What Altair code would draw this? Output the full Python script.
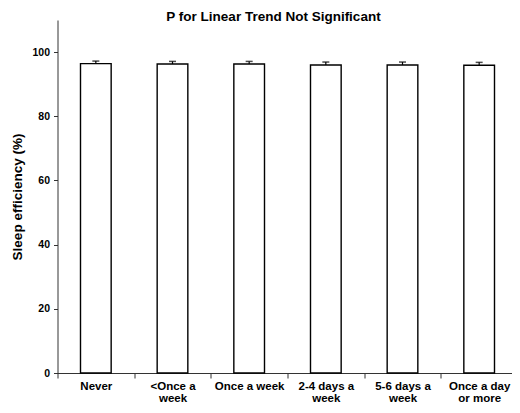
import altair as alt
import pandas as pd

categories = ["Never", "<Once a\nweek", "Once a week", "2-4 days a\nweek", "5-6 days a\nweek", "Once a day\nor more"]
values = [96.4, 96.3, 96.3, 96.0, 96.0, 95.9]
errors = [0.8, 0.8, 0.8, 0.9, 0.9, 0.9]

df = pd.DataFrame({"cat": categories, "val": values, "err": errors})
df["upper"] = df["val"] + df["err"]

font = "Liberation Sans"
x = alt.X("cat:N", sort=categories, title=None,
          scale=alt.Scale(paddingInner=0, paddingOuter=0, range=[0, 460]),
          axis=alt.Axis(labelExpr="split(datum.label, '\\n')", labelAngle=0,
                        tickBand="extent", tickSize=5, labelPadding=2,
                        labelFontSize=11.5, labelFontWeight="bold", labelFont=font,
                        labelColor="black", domainColor="#333", tickColor="#333",
                        labelLineHeight=12.5, labelBaseline="top"))
y = alt.Y("val:Q", title="Sleep efficiency (%)",
          scale=alt.Scale(domain=[0, 110], nice=False),
          axis=alt.Axis(values=[0, 20, 40, 60, 80, 100], grid=False, tickSize=4,
                        labelPadding=4, labelFontSize=10.5, labelFontWeight="bold",
                        labelFont=font, labelColor="black", titleFont=font,
                        titleFontSize=13.5, titleFontWeight="bold", titleColor="black",
                        domainColor="#333", tickColor="#333", titlePadding=7))

bars = alt.Chart(df).mark_bar(fill="white", stroke="black", strokeWidth=1.4,
                              width={"band": 0.4}).encode(x=x, y=y)
err = alt.Chart(df).mark_rule(color="black", strokeWidth=1.2).encode(
    x=alt.X("cat:N", sort=categories), y="val:Q", y2="upper:Q")
cap = alt.Chart(df).mark_tick(color="black", thickness=1.5, size=7, orient="horizontal").encode(
    x=alt.X("cat:N", sort=categories), y="upper:Q")

chart = (bars + err + cap).properties(
    width=454, height=353,
    title=alt.TitleParams("P for Linear Trend Not Significant", font=font, fontSize=13.5,
                          fontWeight="bold", color="black", offset=0,
                          baseline="alphabetic", dx=-11, dy=14),
    autosize=alt.AutoSizeParams(type="none"),
    padding={"left": 49.5, "top": 12, "right": 0, "bottom": 32},
).configure_view(stroke=None)

chart.save("out.html", embed_options={"renderer": "svg", "actions": False})
